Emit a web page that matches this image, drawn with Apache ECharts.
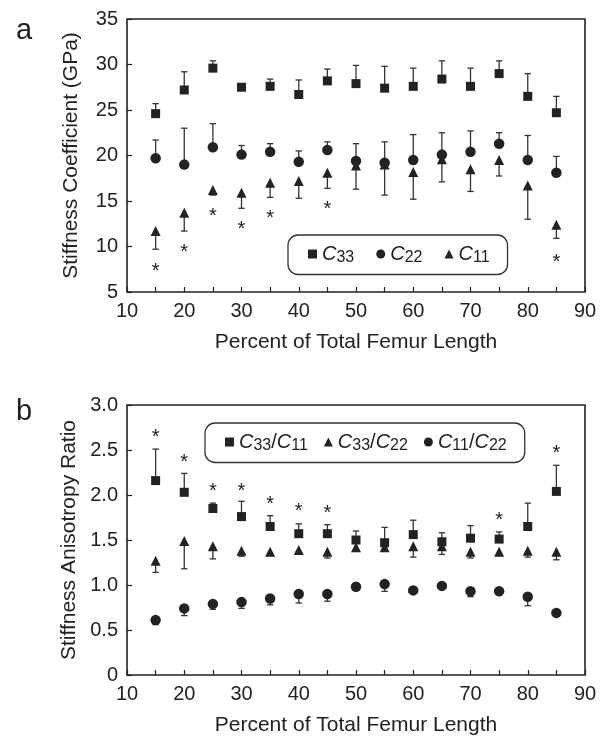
<!DOCTYPE html>
<html>
<head>
<meta charset="utf-8">
<script src="https://cdn.jsdelivr.net/npm/echarts@6/dist/echarts.min.js"></script>
<style>
html,body{margin:0;padding:0;background:#fff;}
#chart{width:603px;height:737px;}
</style>
</head>
<body>
<div id="chart"></div>
<script>
// ---- data ----
const pct = [15, 20, 25, 30, 35, 40, 45, 50, 55, 60, 65, 70, 75, 80, 85];
const xTicks = [10, 20, 30, 40, 50, 60, 70, 80, 90];

// panel a: stiffness coefficients (GPa)
const c33 = [24.6, 27.2, 29.6, 27.5, 27.6, 26.7, 28.2, 27.9, 27.4, 27.6, 28.4, 27.6, 29.0, 26.5, 24.7];
const c33Err = [1.1, 2.0, 0.8, 0.3, 0.8, 1.6, 1.3, 2.0, 2.4, 2.0, 2.0, 2.0, 1.4, 2.5, 1.8];
const c22 = [19.7, 19.0, 20.9, 20.1, 20.4, 19.3, 20.6, 19.4, 19.2, 19.5, 20.1, 20.4, 21.3, 19.5, 18.1];
const c22Err = [2.0, 4.0, 2.6, 1.0, 0.9, 1.2, 0.9, 1.9, 2.3, 2.8, 2.4, 2.3, 1.2, 2.7, 1.8];
const c11 = [11.7, 13.7, 16.2, 15.9, 17.0, 17.2, 18.1, 18.9, 19.0, 18.2, 19.6, 18.5, 19.5, 16.7, 12.4];
const c11Err = [2.0, 2.0, 0.55, 1.7, 1.6, 1.9, 1.7, 2.6, 3.35, 3.0, 2.5, 2.45, 1.75, 3.7, 1.5];
const sigAx = [15, 20, 25, 30, 35, 45, 85];
const sigAy = [7.8, 9.9, 13.8, 12.4, 13.6, 14.6, 8.8];

// panel b: anisotropy ratios
const r3311 = [2.16, 2.03, 1.85, 1.76, 1.65, 1.57, 1.57, 1.50, 1.47, 1.56, 1.48, 1.52, 1.51, 1.65, 2.04];
const r3311Err = [0.35, 0.21, 0.06, 0.17, 0.12, 0.11, 0.10, 0.10, 0.17, 0.16, 0.10, 0.14, 0.08, 0.26, 0.29];
const r3322 = [1.27, 1.49, 1.43, 1.38, 1.37, 1.39, 1.37, 1.42, 1.42, 1.43, 1.43, 1.37, 1.37, 1.38, 1.37];
const r3322Err = [0.13, 0.31, 0.14, 0.06, 0.02, 0.02, 0.07, 0.03, 0.03, 0.12, 0.09, 0.07, 0.02, 0.07, 0.09];
const r1122 = [0.61, 0.74, 0.79, 0.81, 0.85, 0.90, 0.90, 0.98, 1.01, 0.94, 0.99, 0.93, 0.93, 0.87, 0.69];
const r1122Err = [0.05, 0.08, 0.06, 0.07, 0.07, 0.10, 0.08, 0.04, 0.08, 0.03, 0.02, 0.06, 0.02, 0.10, 0.02];
const sigBx = [15, 20, 25, 30, 35, 40, 45, 75, 85];
const sigBy = [2.70, 2.42, 2.10, 2.10, 1.95, 1.87, 1.85, 1.77, 2.52];

// ---- build ----
const FONT = 'Liberation Sans, Arial, Helvetica, sans-serif';
const INK = '#222';

function pts(vals) { return pct.map((x, i) => [x, vals[i]]); }
function errPts(vals, errs, dir) { return pct.map((x, i) => [x, vals[i], vals[i] + dir * errs[i]]); }

function errSeries(g, vals, errs, dir) {
  return {
    type: 'custom', xAxisIndex: g, yAxisIndex: g, z: 1, silent: true,
    encode: { x: 0, y: [1, 2] },
    data: errPts(vals, errs, dir),
    renderItem: function (params, api) {
      const p0 = api.coord([api.value(0), api.value(1)]);
      const p1 = api.coord([api.value(0), api.value(2)]);
      const st = { stroke: '#333', lineWidth: 1.3 };
      return {
        type: 'group',
        children: [
          { type: 'line', shape: { x1: p0[0], y1: p0[1], x2: p1[0], y2: p1[1] }, style: st },
          { type: 'line', shape: { x1: p1[0] - 3.2, y1: p1[1], x2: p1[0] + 3.2, y2: p1[1] }, style: st }
        ]
      };
    }
  };
}

function starSeries(g, xsArr, ysArr) {
  return {
    type: 'custom', xAxisIndex: g, yAxisIndex: g, z: 3, silent: true,
    encode: { x: 0, y: 1 },
    data: xsArr.map((x, i) => [x, ysArr[i]]),
    renderItem: function (params, api) {
      const p = api.coord([api.value(0), api.value(1)]);
      return {
        type: 'text', x: p[0], y: p[1] + 5,
        style: { text: '*', fontSize: 20, fontFamily: FONT, fill: INK, align: 'center', verticalAlign: 'middle' }
      };
    }
  };
}

function markSeries(g, name, vals, symbol, size) {
  return {
    type: 'scatter', name: name, xAxisIndex: g, yAxisIndex: g, z: 2,
    symbol: symbol, symbolSize: size, data: pts(vals),
    itemStyle: { color: INK, opacity: 1 },
    emphasis: { disabled: true }
  };
}

function xAxis(g) {
  return {
    type: 'value', gridIndex: g, min: 10, max: 90, interval: 5,
    name: 'Percent of Total Femur Length', nameLocation: 'middle', nameGap: 40,
    nameTextStyle: { fontSize: 21, fontFamily: FONT, color: INK },
    axisLine: { show: false },
    axisTick: { show: true, inside: true, length: 5, lineStyle: { color: INK, width: 1.2 } },
    splitLine: { show: false },
    axisLabel: {
      fontSize: 20, fontFamily: FONT, color: INK, margin: 9,
      formatter: v => (xTicks.indexOf(v) >= 0 ? String(v) : '')
    }
  };
}

function yAxis(g, min, max, interval, name, fmt) {
  return {
    type: 'value', gridIndex: g, min: min, max: max, interval: interval,
    name: name, nameLocation: 'middle', nameGap: 45,
    nameTextStyle: { fontSize: 21, fontFamily: FONT, color: INK },
    axisLine: { show: false },
    axisTick: { show: true, inside: true, length: 5, lineStyle: { color: INK, width: 1.2 } },
    splitLine: { show: false },
    axisLabel: { fontSize: 20, fontFamily: FONT, color: INK, margin: 9, formatter: fmt }
  };
}

const rich = {
  c: { fontSize: 20, fontStyle: 'italic', fontFamily: FONT, color: INK },
  n: { fontSize: 20, fontFamily: FONT, color: INK },
  s: { fontSize: 16, fontFamily: FONT, color: INK, padding: [7, 0, 0, 0] }
};
function sub(name) {
  return name.split('/').map(p => '{c|C}{s|' + p.slice(1) + '}').join('{n|/}');
}
function legend(names, left, top, gap) {
  return {
    data: names, left: left, top: top, orient: 'horizontal',
    itemWidth: 9, itemHeight: 9, itemGap: gap,
    padding: [9, 18, 9, 20],
    borderColor: '#333', borderWidth: 1.3, borderRadius: 10,
    selectedMode: false,
    formatter: sub,
    textStyle: { fontSize: 20, fontFamily: FONT, color: INK, rich: rich }
  };
}

const option = {
  animation: false,
  backgroundColor: '#fff',
  grid: [
    { left: 127, top: 19, width: 458, height: 273, show: true, borderColor: INK, borderWidth: 1.6, backgroundColor: 'transparent' },
    { left: 127, top: 405, width: 458, height: 273, show: true, borderColor: INK, borderWidth: 1.6, backgroundColor: 'transparent' }
  ],
  xAxis: [xAxis(0), xAxis(1)],
  yAxis: [
    yAxis(0, 5, 35, 5, 'Stiffness Coefficient (GPa)', v => String(v)),
    yAxis(1, 0, 3, 0.5, 'Stiffness Anisotropy Ratio', v => (v === 0 ? '0' : v.toFixed(1)))
  ],
  legend: [
    legend(['C33', 'C22', 'C11'], 288, 235, 22),
    legend(['C33/C11', 'C33/C22', 'C11/C22'], 205, 423, 16)
  ],
  graphic: [
    { type: 'text', left: 16, top: 16, style: { text: 'a', fontSize: 29, fontFamily: FONT, fill: INK } },
    { type: 'text', left: 16, top: 397, style: { text: 'b', fontSize: 29, fontFamily: FONT, fill: INK } }
  ],
  series: [
    errSeries(0, c33, c33Err, 1),
    errSeries(0, c22, c22Err, 1),
    errSeries(0, c11, c11Err, -1),
    markSeries(0, 'C33', c33, 'rect', 9),
    markSeries(0, 'C22', c22, 'circle', 10.5),
    markSeries(0, 'C11', c11, 'triangle', 10),
    starSeries(0, sigAx, sigAy),
    errSeries(1, r3311, r3311Err, 1),
    errSeries(1, r3322, r3322Err, -1),
    errSeries(1, r1122, r1122Err, -1),
    markSeries(1, 'C33/C11', r3311, 'rect', 9),
    markSeries(1, 'C33/C22', r3322, 'triangle', 10),
    markSeries(1, 'C11/C22', r1122, 'circle', 10.5),
    starSeries(1, sigBx, sigBy)
  ]
};

const chart = echarts.init(document.getElementById('chart'), null, { renderer: 'canvas' });
chart.setOption(option);
</script>
</body>
</html>
